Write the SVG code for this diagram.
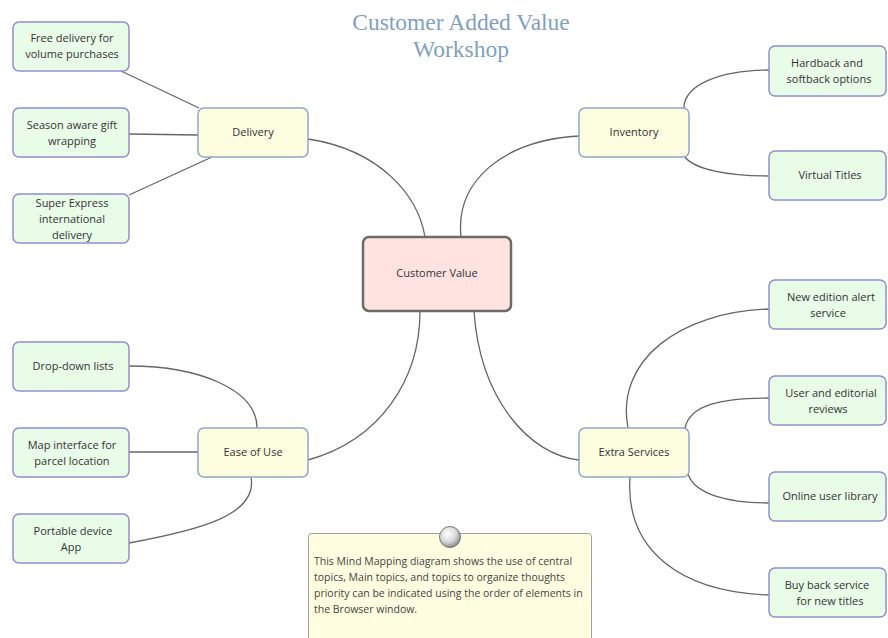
<svg xmlns="http://www.w3.org/2000/svg" width="888" height="638" viewBox="0 0 888 638">
<defs>
<radialGradient id="pin" cx="0.4" cy="0.35" r="0.65">
<stop offset="0" stop-color="#ffffff"/>
<stop offset="0.6" stop-color="#d8d8d8"/>
<stop offset="1" stop-color="#8a8a8a"/>
</radialGradient>
</defs>
<style>
.leaf rect{fill:#e8fce8;stroke:#8e8fd0;stroke-width:1.5}
.main rect{fill:#fdfde0;stroke:#8ea8c8;stroke-width:1.5}
.cv rect{fill:#ffe3e1;stroke:#6b6b6b;stroke-width:2.5}
text{font-family:"Open Sans","Noto Sans","Liberation Sans",sans-serif;font-size:11px;fill:#333;text-anchor:middle}
.title{font-family:"Liberation Serif","DejaVu Serif",serif;font-size:23.5px;fill:#7f9fc4}
.note text{text-anchor:start;font-size:10.5px;fill:#444}
#connectors path{fill:none;stroke:#666;stroke-width:1.3}
</style>
<rect width="888" height="638" fill="#ffffff"/>
<g id="title">
<text class="title" x="461" y="30">Customer Added Value</text>
<text class="title" x="461" y="57">Workshop</text>
</g>
<g id="connectors">
<path d="M308,139 C380,150 418,195 425,237"/>
<path d="M461,237 C455,180 505,140 579,136"/>
<path d="M308,460 C380,440 420,380 420,311"/>
<path d="M474,311 C480,400 530,455 579,460"/>
<path d="M121,71 L199,108"/>
<path d="M129,134 L198,135"/>
<path d="M129,195 L212,157"/>
<path d="M684,108 C684,85 720,70 769,70"/>
<path d="M685,157 C695,170 730,176 769,176"/>
<path d="M129,366 C200,366 257,390 257,428"/>
<path d="M129,452 L198,452"/>
<path d="M251,477 C258,515 200,530 129,543"/>
<path d="M628,428 C615,360 680,312 769,309"/>
<path d="M685,428 C690,405 720,398 769,398"/>
<path d="M688,474 C695,495 730,503 769,503"/>
<path d="M630,477 C625,550 680,592 769,595"/>
</g>
<g id="customer-value" class="cv"><rect x="363" y="237" width="148" height="74" rx="6"/><text x="437" y="277">Customer Value</text></g>
<g id="delivery" class="main"><rect x="198" y="108" width="110" height="49" rx="6"/><text x="253" y="136">Delivery</text></g>
<g id="inventory" class="main"><rect x="579" y="108" width="110" height="49" rx="6"/><text x="634" y="136">Inventory</text></g>
<g id="ease-of-use" class="main"><rect x="198" y="428" width="110" height="49" rx="6"/><text x="253" y="456">Ease of Use</text></g>
<g id="extra-services" class="main"><rect x="579" y="428" width="110" height="49" rx="6"/><text x="634" y="456">Extra Services</text></g>
<g id="free-delivery" class="leaf"><rect x="13" y="22" width="116" height="49" rx="6"/><text x="72" y="42">Free delivery for</text><text x="72" y="58">volume purchases</text></g>
<g id="season-aware" class="leaf"><rect x="13" y="108" width="116" height="49" rx="6"/><text x="72" y="129">Season aware gift</text><text x="72" y="145">wrapping</text></g>
<g id="super-express" class="leaf"><rect x="13" y="194" width="116" height="49" rx="6"/><text x="72" y="207">Super Express</text><text x="72" y="223">international</text><text x="72" y="239">delivery</text></g>
<g id="hardback" class="leaf"><rect x="769" y="46" width="117" height="50" rx="6"/><text x="827" y="67">Hardback and</text><text x="829" y="83">softback options</text></g>
<g id="virtual-titles" class="leaf"><rect x="769" y="151" width="117" height="49" rx="6"/><text x="830" y="179">Virtual Titles</text></g>
<g id="drop-down" class="leaf"><rect x="13" y="342" width="116" height="49" rx="6"/><text x="73" y="370">Drop-down lists</text></g>
<g id="map-interface" class="leaf"><rect x="13" y="428" width="116" height="49" rx="6"/><text x="72" y="449">Map interface for</text><text x="72" y="465">parcel location</text></g>
<g id="portable-device" class="leaf"><rect x="13" y="514" width="116" height="49" rx="6"/><text x="73" y="535">Portable device</text><text x="71" y="551">App</text></g>
<g id="new-edition" class="leaf"><rect x="769" y="280" width="117" height="49" rx="6"/><text x="831" y="301">New edition alert</text><text x="828" y="317">service</text></g>
<g id="user-editorial" class="leaf"><rect x="769" y="376" width="117" height="49" rx="6"/><text x="831" y="397">User and editorial</text><text x="828" y="413">reviews</text></g>
<g id="online-library" class="leaf"><rect x="769" y="472" width="117" height="49" rx="6"/><text x="830" y="500">Online user library</text></g>
<g id="buy-back" class="leaf"><rect x="769" y="568" width="117" height="49" rx="6"/><text x="827" y="589">Buy back service</text><text x="830" y="605">for new titles</text></g>
<g id="note" class="note">
<rect x="308.5" y="533.5" width="283" height="110" rx="3" fill="#fffee0" stroke="#a0a0a0" stroke-width="1"/>
<circle cx="450" cy="537" r="10.5" fill="url(#pin)" stroke="#777" stroke-width="1"/>
<text x="314" y="565">This Mind Mapping diagram shows the use of central</text>
<text x="314" y="581">topics, Main topics, and topics to organize thoughts</text>
<text x="314" y="597">priority can be indicated using the order of elements in</text>
<text x="314" y="613">the Browser window.</text>
</g>
</svg>
